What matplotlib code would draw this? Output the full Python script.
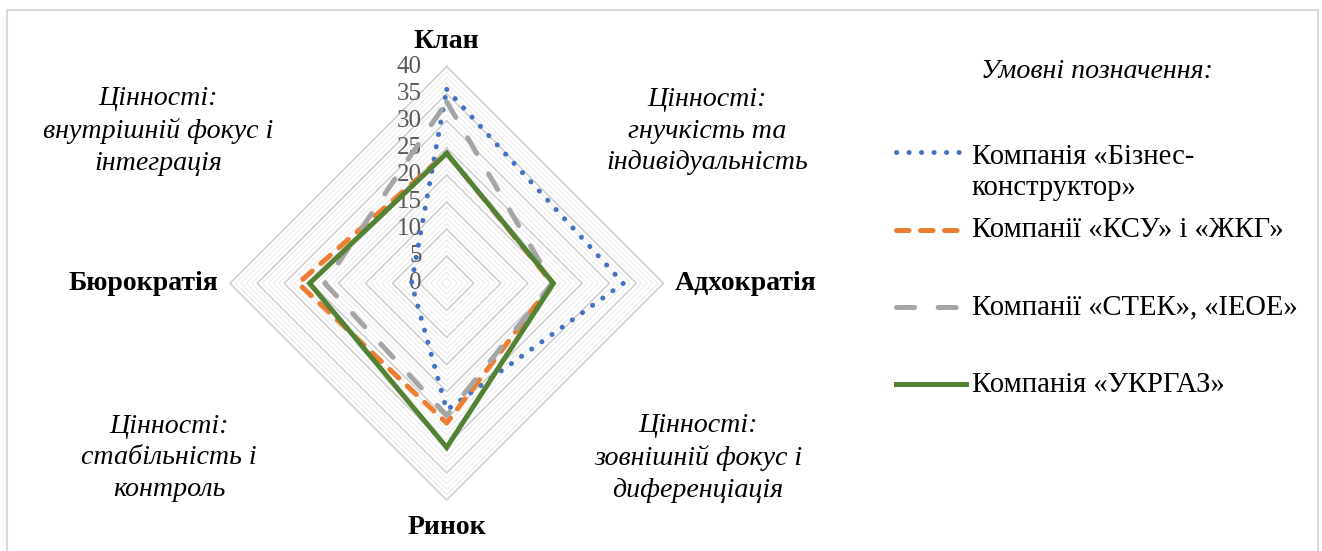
import numpy as np
import matplotlib
matplotlib.use("Agg")
import matplotlib.pyplot as plt
from matplotlib.lines import Line2D
from matplotlib.patches import Rectangle

# ---------------- data ----------------
categories = ['Клан', 'Адхократія', 'Ринок', 'Бюрократія']
biz_konstruktor = [35.8, 32.6, 23.4, 6.5]
ksu_zhkg = [24.0, 19.5, 25.8, 27.4]
stek_ieoe = [33.5, 19.5, 24.4, 22.5]
ukrgaz = [24.0, 19.7, 30.3, 25.3]
series_labels = ['Компанія «Бізнес-\nконструктор»', 'Компанії «КСУ» і «ЖКГ»',
                 'Компанії «СТЕК», «ІЕОЕ»', 'Компанія «УКРГАЗ»']
tick_values = [0, 5, 10, 15, 20, 25, 30, 35, 40]
r_max = 40

plt.rcParams['lines.scale_dashes'] = False
SERIF = ['Liberation Serif', 'DejaVu Serif']

W, H = 1322, 551
fig = plt.figure(figsize=(W / 100, H / 100), dpi=100)
fig.patch.set_facecolor('white')

def fx(px):
    return px / W

def fy(py):
    return 1 - py / H

# chart-area frame
fig.add_artist(Rectangle((fx(7), fy(560)), fx(1318) - fx(7), fy(10) - fy(560),
                         transform=fig.transFigure, fill=False,
                         edgecolor='#d9d9d9', lw=1.5))

# radar axes (cartesian, equal aspect)
cx, cy, R = 446.7, 283.3, 216.7
ax = fig.add_axes([fx(cx - R), fy(cy + R), 2 * R / W, 2 * R / H])
ax.set_xlim(-r_max, r_max)
ax.set_ylim(-r_max, r_max)
ax.axis('off')

angles = np.deg2rad(np.arange(len(categories)) * 360.0 / len(categories))

def to_xy(vals):
    v = np.asarray(vals + vals[:1], dtype=float)
    a = np.concatenate([angles, angles[:1]])
    return v * np.sin(a), v * np.cos(a)

# gridlines
for r in range(1, r_max + 1):
    gx, gy = to_xy([r] * len(categories))
    if r % 5 == 0:
        ax.plot(gx, gy, color='#d0d0d0', lw=1.2, zorder=1, clip_on=False)
    else:
        ax.plot(gx, gy, color='#ebebeb', lw=0.8, zorder=0.5, clip_on=False)

# tick labels
for t in tick_values:
    ax.text(-4.6, t, str(t), ha='right', va='center', fontsize=18,
            color='#595959', family=SERIF, zorder=2)

# series
styles = [
    dict(color='#4472C4', dashes=(0.1, 8.9)),
    dict(color='#ED7D31', dashes=(9.0, 8.3)),
    dict(color='#A5A5A5', dashes=(13.0, 17.0)),
    dict(color='#548235', dashes=None),
]
all_series = [biz_konstruktor, ksu_zhkg, stek_ieoe, ukrgaz]
for i, (vals, st) in enumerate(zip(all_series, styles)):
    sx, sy = to_xy(vals)
    ln, = ax.plot(sx, sy, color=st['color'], lw=3.6, zorder=3 + i,
                  solid_joinstyle='miter', clip_on=False)
    if st['dashes'] is not None:
        ln.set_dashes(st['dashes'])
        ln.set_dash_capstyle('round')
        ln.set_dash_joinstyle('round')

# category labels
lab_kw = dict(fontsize=20, fontweight='bold', family=SERIF, color='black')
fig.text(fx(446.7), fy(42), categories[0], ha='center', va='center', **lab_kw)
fig.text(fx(675), fy(284), categories[1], ha='left', va='center', **lab_kw)
fig.text(fx(446.7), fy(527), categories[2], ha='center', va='center', **lab_kw)
fig.text(fx(218), fy(284), categories[3], ha='right', va='center', **lab_kw)

# quadrant value labels
val_kw = dict(fontsize=20.2, fontstyle='italic', family=SERIF, color='black',
              ha='center', va='center', linespacing=1.33)
fig.text(fx(158), fy(131), 'Цінності:\nвнутрішній фокус і\nінтеграція', **val_kw)
fig.text(fx(707), fy(131), 'Цінності:\nгнучкість та\nіндивідуальність', **val_kw)
fig.text(fx(169), fy(458), 'Цінності:\nстабільність і\nконтроль', **val_kw)
fig.text(fx(698), fy(458), 'Цінності:\nзовнішній фокус і\nдиференціація', **val_kw)

# legend (drawn manually)
fig.text(fx(1097), fy(72), 'Умовні позначення:', ha='center', va='center',
         fontsize=20.2, fontstyle='italic', family=SERIF)
handle_y = [152, 229.5, 307, 384]
text_y = [153, 230, 307, 385]
for st, lab, hy, ty in zip(styles, series_labels, handle_y, text_y):
    ln = Line2D([fx(896), fx(960 if st['dashes'] else 966)], [fy(hy), fy(hy)],
                transform=fig.transFigure, color=st['color'], lw=3.6)
    if st['dashes'] is not None:
        ln.set_dashes(st['dashes'])
        ln.set_dash_capstyle('round')
    fig.add_artist(ln)
    if '\n' in lab:
        fig.text(fx(972), fy(ty + 7 + 35), lab, ha='left', va='baseline',
                 fontsize=20.6, family=SERIF, linespacing=1.24)
    else:
        fig.text(fx(972), fy(ty), lab, ha='left', va='center',
                 fontsize=20.6, family=SERIF)

fig.savefig('out.png', dpi=100, facecolor='white')
